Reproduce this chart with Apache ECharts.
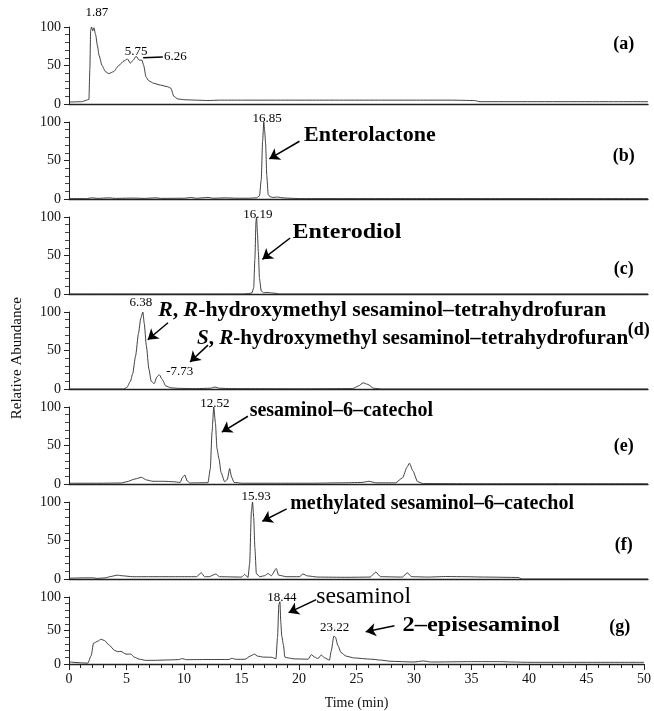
<!DOCTYPE html>
<html><head><meta charset="utf-8">
<script src="https://cdn.jsdelivr.net/npm/echarts@6/dist/echarts.min.js"></script>
<style>html,body{margin:0;padding:0;background:#fff}#c{width:654px;height:711px}</style>
</head><body><div id="c"></div>
<script>
// ---- data (time in min, relative abundance) ----
const traceA = [[0,2.5],[1.1,3],[1.45,4.5],[1.6,5.5],[1.72,6],[1.8,45],[1.87,96],[1.95,100],[2.05,95],[2.15,99],[2.3,90],[2.45,76],[2.6,63],[2.85,50],[3.15,42],[3.45,39.5],[3.85,42],[4.3,50],[4.75,56],[5.05,58.5],[5.3,53],[5.55,57],[5.8,62],[6.05,57],[6.3,57],[6.45,50],[6.65,35],[6.9,30],[7.3,27],[7.9,24.5],[8.5,22.5],[8.8,20.5],[9.05,10],[9.4,6.5],[10,5.5],[11,5],[12,4.5],[13,5],[15,5],[18,5],[21,5],[24,5],[27,5],[30,5],[33,5],[35,4.5],[35.5,3],[40,3],[45,3],[50,3]];
const traceB = [[0,0.5],[1.5,0.5],[2,1.5],[2.5,0.8],[3.5,1.5],[4,0.8],[5.5,1.2],[6.5,0.8],[7.5,1.5],[8,0.8],[10,1],[10.5,2],[11,1],[12,2],[12.5,1],[13.5,1.5],[14.5,1],[15.5,1],[16.2,1.5],[16.45,4],[16.6,25],[16.72,75],[16.82,100],[16.9,88],[16.98,72],[17.08,30],[17.2,6],[17.35,3],[17.6,2],[18,2.5],[18.5,1.5],[19,1],[20,0.5],[30,0.5],[50,0.5]];
const traceC = [[0,0],[15,0],[15.5,0.5],[15.8,1.5],[15.95,8],[16.05,45],[16.15,95],[16.2,100],[16.27,80],[16.35,55],[16.45,20],[16.6,4],[16.8,1.5],[17.1,2],[17.4,1.5],[17.8,1],[18.2,0],[50,0]];
const traceD = [[0,0],[4.7,0],[5.0,2],[5.3,10],[5.5,20],[5.75,43],[6.0,72],[6.2,92],[6.38,100],[6.5,85],[6.68,56],[6.9,26],[7.1,10],[7.35,7],[7.6,16],[7.8,18.5],[8.05,12.5],[8.35,4],[8.8,1.5],[9.5,0.8],[11,0.5],[12.2,1],[12.6,2.5],[13,1],[14,0.5],[20,0.3],[24.5,0.5],[25,4],[25.4,8],[25.8,6],[26.3,1],[27,0],[50,0]];
const traceE = [[0,1],[2.5,1],[4.5,1.3],[5,3],[5.7,6.5],[6.25,8.7],[6.7,5.2],[7.25,3.5],[8.2,3.5],[9,3],[9.6,2],[9.8,8.7],[10.0,11.7],[10.2,4],[10.45,1.3],[11,1.5],[12.0,1.7],[12.2,19.6],[12.35,67],[12.5,100],[12.64,80],[12.78,46],[12.95,33],[13.13,15],[13.44,3],[13.67,5.7],[13.87,20],[14.05,8.7],[14.25,2],[15,1],[18,1],[21,1],[23.5,1.5],[25.3,2],[25.9,3.5],[26.5,1.5],[28.2,1.5],[28.8,8],[29.2,22],[29.4,27],[29.7,17],[30.1,3],[30.6,0.5],[35,0.3],[50,0.3]];
const traceF = [[0,1],[1.4,1.5],[2.1,1.5],[2.4,0.8],[3.2,1.5],[3.5,3],[4.2,5],[4.5,4.3],[5.5,3],[7,3],[9,3],[11,3],[11.43,8],[11.7,3],[12.1,3],[12.67,6.4],[13.0,3],[14.9,2.5],[15.17,6],[15.46,2],[15.6,20],[15.75,88],[15.85,100],[15.95,80],[16.05,41],[16.18,7],[16.47,3],[16.9,4.3],[17.18,7.2],[17.47,4.3],[17.9,13.6],[18.1,5],[18.77,3],[19.9,3],[20.2,6.4],[20.6,4],[21.5,2.5],[24,2.2],[26,2.5],[26.5,9],[26.9,3],[28.8,2.5],[29.2,8],[29.6,3],[31,2.5],[32.5,3.2],[34,3],[36,2.5],[38.8,2],[39.1,0],[50,0]];
const traceG = [[0,3],[1.64,1.3],[1.93,12.6],[2.13,31],[2.5,34],[2.79,37],[3.08,35],[3.51,28],[3.94,20.6],[4.23,18.4],[4.52,18.8],[4.95,14.8],[5.38,14.8],[5.67,10.3],[6.1,7.2],[6.68,5.4],[7.5,5.5],[8.5,6],[9.5,6.5],[9.84,8],[10.2,6.5],[12,6.7],[13.9,6.7],[14.16,8.5],[14.5,7],[15.3,7],[15.75,11.7],[16.12,14.8],[16.4,11.7],[16.9,10.3],[17.6,10],[18.0,8],[18.13,39.5],[18.25,89],[18.34,93],[18.42,62],[18.5,41.7],[18.65,28],[18.77,10.3],[19.06,9],[19.6,7.6],[20.8,7.2],[21.07,13.9],[21.36,10.3],[21.65,8],[21.94,13.5],[22.2,9.4],[22.65,5.8],[22.8,19.3],[23.03,41.7],[23.17,40],[23.37,28],[23.66,17],[24.1,11.7],[24.8,9],[26.25,7.2],[27.1,5.8],[28,4],[30,3],[30.8,4.5],[31.5,3],[35,3.5],[37.5,3.5],[38.5,3],[40,2.5],[45,2.5],[50,2.5]];
const traces = [traceA, traceB, traceC, traceD, traceE, traceF, traceG];
const panelLabels = ['(a)','(b)','(c)','(d)','(e)','(f)','(g)'];
const xTicks = [0,5,10,15,20,25,30,35,40,45,50];
const yTicks = [0,50,100];

// annotation arrows: [panel, [t1,v1], [t2,v2], arrow?]
const arrows = [
  [0,[6.4,60],[8.1,61],false],
  [1,[19.9,75],[17.3,52],true],
  [2,[19.1,72.7],[16.7,45],true],
  [3,[8.55,86],[6.8,64],true],
  [3,[12,57],[10.45,35],true],
  [4,[15.45,88],[13.2,67.5],true],
  [5,[18.8,91],[16.7,75],true],
  [6,[21.5,96],[19.1,76.6],true],
  [6,[28.3,57],[25.8,48],true]
];
// annotation texts: [panel, t, v, text, kind, align, horizontal stretch]
const notes = [
  [0,2.4,119,'1.87','num','center',1],
  [0,5.8,67.5,'5.75','num','center',1],
  [0,8.2,61,'6.26','num','left',1],
  [1,17.1,104,'16.85','num','center',1],
  [1,20.3,82,'Enterolactone','name','left',1.1],
  [2,16.3,102.6,'16.19','num','center',1],
  [2,19.3,80,'Enterodiol','name','left',1.2],
  [3,6.2,112,'6.38','num','center',1],
  [3,7.7,101,'{i|R}, {i|R}-hydroxymethyl sesaminol–tetrahydrofuran','name','left',1.09],
  [3,11.05,65,'{i|S}, {i|R}-hydroxymethyl sesaminol–tetrahydrofuran','name','left',1.055],
  [3,8.4,23,'-7.73','num','left',1],
  [4,12.6,105,'12.52','num','center',1],
  [4,15.6,95,'sesaminol–6–catechol','name','left',1],
  [5,16.15,106.5,'15.93','num','center',1],
  [5,19.1,97,'methylated sesaminol–6–catechol','name','left',1],
  [6,18.5,99,'18.44','num','center',1],
  [6,21.5,100,'sesaminol','plain','left',1.03],
  [6,23.1,54.5,'23.22','num','center',1],
  [6,29.0,57,'2–episesaminol','name','left',1.22]
];
const panelLabelPos = [[47.9,78],[47.9,56],[47.9,32],[49.2,76],[47.9,49],[47.9,44],[47.9,55]];

const FONT = 'Liberation Serif, Times New Roman, serif';
const chart = echarts.init(document.getElementById('c'), null, {renderer:'canvas'});
const n = traces.length;
const grids = [], xAxes = [], yAxes = [], series = [];
for (let i = 0; i < n; i++) {
  const last = i === n - 1;
  grids.push({left:69, right:6, top:27 + 95 * i, height:77});
  xAxes.push({
    gridIndex:i, type:'value', min:xTicks[0], max:xTicks[xTicks.length-1], interval:xTicks[1]-xTicks[0],
    axisLine:{onZero:false, lineStyle:{color:'#222', width:1.3}},
    axisTick:{show:last, length:6, lineStyle:{color:'#222'}},
    minorTick:{show:last, splitNumber:5, length:4, lineStyle:{color:'#222'}},
    axisLabel:{show:last, fontFamily:FONT, fontSize:14, color:'#111', margin:8},
    splitLine:{show:false},
    name: last ? 'Time (min)' : '', nameLocation:'middle', nameGap:32,
    nameTextStyle:{fontFamily:FONT, fontSize:14, color:'#111'}
  });
  yAxes.push({
    gridIndex:i, type:'value', min:yTicks[0], max:yTicks[yTicks.length-1], interval:yTicks[1]-yTicks[0],
    axisLine:{show:true, lineStyle:{color:'#222', width:1}},
    axisTick:{show:true, length:5, lineStyle:{color:'#222'}},
    minorTick:{show:true, splitNumber:5, length:4, lineStyle:{color:'#444'}},
    axisLabel:{fontFamily:FONT, fontSize:14, color:'#111', margin:8},
    splitLine:{show:false}
  });
  const ml = arrows.filter(a => a[0] === i).map(a => [
    {coord:a[1], symbol:'none'},
    {coord:a[2], symbol: a[3] ? 'arrow' : 'none'}
  ]);
  series.push({
    type:'line', xAxisIndex:i, yAxisIndex:i, data:traces[i],
    showSymbol:false, smooth:0.2, smoothMonotone:'x', clip:false,
    lineStyle:{color:'#2a2a2a', width:0.9}, animation:false, silent:true,
    markLine:{silent:true, animation:false, symbolSize:10, label:{show:false},
      lineStyle:{color:'#000', width:1.5, type:'solid'}, emphasis:{disabled:true}, data:ml}
  });
}
chart.setOption({animation:false, grid:grids, xAxis:xAxes, yAxis:yAxes, series:series});

const styles = {
  num:{fontSize:13, fontWeight:'normal'},
  name:{fontSize:20, fontWeight:'bold'},
  plain:{fontSize:23, fontWeight:'normal'}
};
const g = [];
notes.forEach(nt => {
  const p = chart.convertToPixel({gridIndex:nt[0]}, [nt[1], nt[2]]);
  const s = styles[nt[4]];
  g.push({type:'text', x:p[0], y:p[1], scaleX:nt[6], silent:true, style:{
    text:nt[3], fontFamily:FONT, fontSize:s.fontSize, fontWeight:s.fontWeight, fill:'#000',
    align:nt[5], textAlign:nt[5], verticalAlign:'middle', textVerticalAlign:'middle',
    rich:{i:{fontStyle:'italic', fontWeight:'bold', fontSize:s.fontSize, fontFamily:FONT, fill:'#000'}}
  }});
});
panelLabels.forEach((t, i) => {
  const p = chart.convertToPixel({gridIndex:i}, panelLabelPos[i]);
  g.push({type:'text', x:p[0], y:p[1], silent:true, style:{text:t, fontFamily:FONT, fontSize:18, fontWeight:'bold', fill:'#000', align:'center', textAlign:'center', verticalAlign:'middle', textVerticalAlign:'middle'}});
});
const mid = chart.convertToPixel({gridIndex:3}, [0, 40]);
g.push({type:'text', x:17, y:mid[1], rotation:Math.PI/2, silent:true, style:{text:'Relative Abundance', fontFamily:FONT, fontSize:15, fill:'#111', align:'center', textAlign:'center', verticalAlign:'middle', textVerticalAlign:'middle'}});
chart.setOption({graphic:g});
</script></body></html>
